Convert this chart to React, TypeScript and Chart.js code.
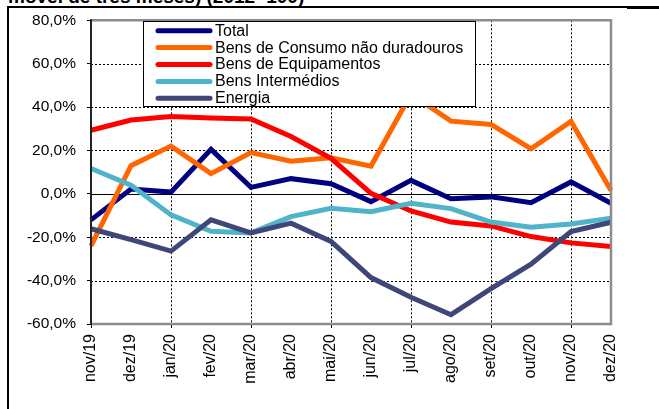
import React, { useEffect, useRef } from "react";
import { Chart, registerables } from "chart.js";

Chart.register(...registerables);

const categories = ["nov/19", "dez/19", "jan/20", "fev/20", "mar/20", "abr/20", "mai/20", "jun/20", "jul/20", "ago/20", "set/20", "out/20", "nov/20", "dez/20"];
const total = [-12, 2.2, 0.8, 20.5, 3, 7, 4.7, -3.6, 6.2, -2.3, -1.4, -4.1, 5.5, -4.3];
const consumo = [-24, 13, 22, 9.3, 19, 15, 16.6, 12.8, 46, 33.5, 32, 20.8, 33.4, 1.5];
const equipamentos = [29.3, 34, 35.7, 35, 34.5, 26.4, 16.4, 0.2, -7.9, -13, -14.8, -19.7, -22.6, -24.3];
const intermedios = [11.7, 4, -9.7, -17.3, -18, -10.5, -6.7, -8.2, -4.4, -6.8, -13, -15.4, -13.9, -11.2];
const energia = [-16.1, -21.1, -26.4, -12, -18, -13.5, -21.9, -38.6, -47.7, -55.7, -43.7, -32.4, -17.4, -13.1];

const seriesLabels = ["Total", "Bens de Consumo não duradouros", "Bens de Equipamentos", "Bens Intermédios", "Energia"];
const seriesColors = ["#000080", "#FF6600", "#FF0000", "#4FB3CA", "#3F4678"];
const titleText = "móvel de três meses) (2012=100)";

const Y_MIN = -60;
const Y_MAX = 80;
const Y_STEP = 20;

const FONT = "Arial, 'Liberation Sans', sans-serif";

const fmtPct = (v: number) => v.toFixed(1).replace(".", ",") + "%";

const framePlugin = {
  id: "framePlugin",
  beforeDatasetsDraw(chart: any) {
    const { ctx, chartArea } = chart;
    const { left, right, top, bottom } = chartArea;
    const ys = chart.scales.y;
    const xs = chart.scales.x;
    ctx.save();
    ctx.lineWidth = 1;
    ctx.strokeStyle = "#000";
    for (let v = Y_MIN + Y_STEP; v < Y_MAX; v += Y_STEP) {
      const y = Math.round(ys.getPixelForValue(v)) + 0.5;
      ctx.setLineDash(v === 0 ? [] : [2, 2]);
      ctx.beginPath();
      ctx.moveTo(left, y);
      ctx.lineTo(right, y);
      ctx.stroke();
    }
    ctx.setLineDash([2, 2]);
    for (let i = 2; i < categories.length - 1; i += 2) {
      const x = Math.round(xs.getPixelForValue(i)) + 0.5;
      ctx.beginPath();
      ctx.moveTo(x, top);
      ctx.lineTo(x, bottom);
      ctx.stroke();
    }
    ctx.restore();
  },
  afterDatasetsDraw(chart: any) {
    const { ctx, chartArea } = chart;
    const { left, right, top, bottom } = chartArea;
    ctx.save();
    ctx.setLineDash([]);
    ctx.strokeStyle = "#8C8C8C";
    ctx.lineWidth = 2.5;
    ctx.beginPath();
    ctx.moveTo(left, top);
    ctx.lineTo(right, top);
    ctx.lineTo(right, bottom);
    ctx.lineTo(left, bottom);
    ctx.stroke();
    ctx.strokeStyle = "#222";
    ctx.lineWidth = 2;
    ctx.beginPath();
    ctx.moveTo(left, top - 1);
    ctx.lineTo(left, bottom + 1);
    ctx.stroke();

    const bx = 143.5, by = 21.5, bw = 332, bh = 85;
    ctx.fillStyle = "#fff";
    ctx.fillRect(bx, by, bw, bh);
    ctx.strokeStyle = "#000";
    ctx.lineWidth = 1;
    ctx.strokeRect(bx, by, bw, bh);
    ctx.font = "16px " + FONT;
    ctx.textBaseline = "middle";
    ctx.textAlign = "left";
    chart.data.datasets.forEach((ds: any, i: number) => {
      const cy = 30.7 + i * 16.9;
      ctx.strokeStyle = ds.borderColor;
      ctx.lineWidth = 5;
      ctx.lineCap = "round";
      ctx.beginPath();
      ctx.moveTo(158, cy);
      ctx.lineTo(210, cy);
      ctx.stroke();
      ctx.fillStyle = "#000";
      ctx.fillText(ds.label, 215, cy + 0.5);
    });
    ctx.restore();
  },
};

export default function App() {
  const ref = useRef<HTMLCanvasElement | null>(null);
  useEffect(() => {
    if (!ref.current) return;
    const seriesData = [total, consumo, equipamentos, intermedios, energia];
    const chart = new Chart(ref.current, {
      type: "line",
      data: {
        labels: categories,
        datasets: seriesData.map((d, i) => ({
          label: seriesLabels[i],
          data: d,
          borderColor: seriesColors[i],
          backgroundColor: seriesColors[i],
          borderWidth: 5,
          pointRadius: 0,
          tension: 0,
          fill: false,
          order: 5 - i,
        })),
      },
      options: {
        responsive: false,
        animation: false,
        devicePixelRatio: 1,
        layout: { padding: { top: 17, right: 48, left: 0, bottom: 0 } },
        plugins: { legend: { display: false }, tooltip: { enabled: false }, title: { display: false } },
        scales: {
          x: {
            offset: false,
            border: { display: false },
            grid: {
              drawOnChartArea: false,
              drawTicks: true,
              tickLength: 4,
              tickColor: (c: any) => (c.index % 2 === 0 ? "#000" : "rgba(0,0,0,0)"),
            },
            ticks: {
              autoSkip: false,
              minRotation: 90,
              maxRotation: 90,
              padding: 6,
              color: "#000",
              font: { family: FONT, size: 16 },
            },
            afterFit: (s: any) => {
              s.height = 85;
            },
          },
          y: {
            min: Y_MIN,
            max: Y_MAX,
            border: { display: false },
            grid: { drawOnChartArea: false, drawTicks: true, tickLength: 4, tickColor: "#000" },
            ticks: {
              stepSize: Y_STEP,
              padding: 11,
              color: "#000",
              font: { family: FONT, size: 15.5 },
              callback: (v: any) => fmtPct(Number(v)),
            },
            afterFit: (s: any) => {
              s.width = 91;
            },
          },
        },
      },
      plugins: [framePlugin],
    });
    return () => chart.destroy();
  }, []);

  return (
    <div style={{ position: "fixed", left: 0, top: 0, width: 659, height: 409, background: "#fff", overflow: "hidden" }}>
      <div
        style={{
          position: "absolute",
          left: 8,
          top: -13,
          fontFamily: FONT,
          fontWeight: "bold",
          fontSize: 19,
          lineHeight: "19px",
          whiteSpace: "nowrap",
          color: "#000",
        }}
      >
        {titleText}
      </div>
      <div style={{ position: "absolute", left: 7, top: 6, width: 620, height: 1.5, background: "#000" }} />
      <div style={{ position: "absolute", left: 627, top: 6, width: 32, height: 3, background: "#000" }} />
      <div style={{ position: "absolute", left: 7, top: 6, width: 2, height: 403, background: "#000" }} />
      <canvas ref={ref} width={659} height={409} style={{ position: "absolute", left: 0, top: 0, width: 659, height: 409 }} />
    </div>
  );
}
